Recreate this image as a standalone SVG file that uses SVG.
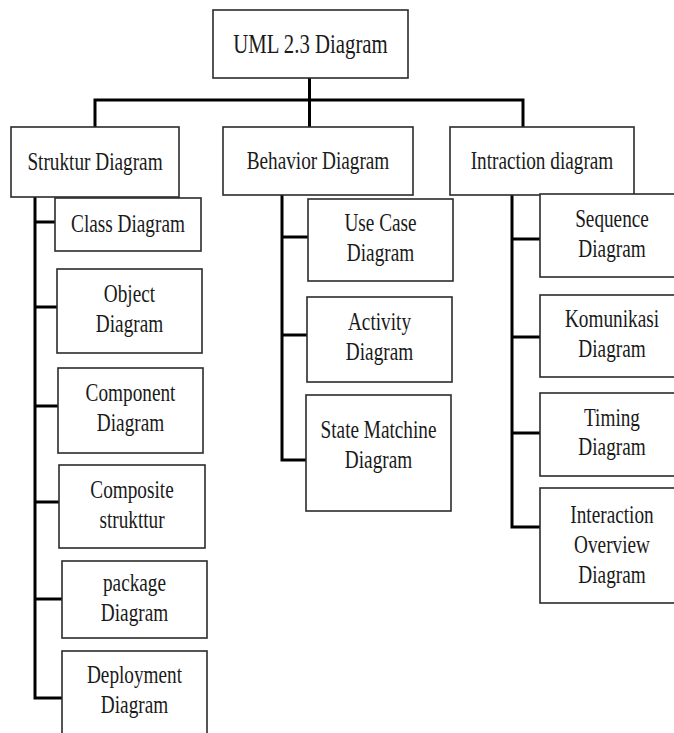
<svg xmlns="http://www.w3.org/2000/svg" width="674" height="733" viewBox="0 0 674 733">
<style>
  .box { fill: #ffffff; stroke: #2b2b2b; stroke-width: 1.6; }
  .lbl { font-family: 'Liberation Serif', 'Times New Roman', serif; font-size: 25px; fill: #1a1a1a; text-anchor: middle; }
  .big { font-size: 27px; }
  .conn { fill: none; stroke: #000000; stroke-width: 3; stroke-linejoin: miter; }
</style>
<rect x="0" y="0" width="674" height="733" fill="#ffffff"/>
<g id="connectors">
  <path class="conn" d="M309.5,78 V127"/>
  <path class="conn" d="M95,127 V100 H523 V127"/>
  <path class="conn" d="M35,197 V698 H62"/>
  <path class="conn" d="M35,222 H55"/>
  <path class="conn" d="M35,307 H57"/>
  <path class="conn" d="M35,406 H58"/>
  <path class="conn" d="M35,502 H59"/>
  <path class="conn" d="M35,599 H62"/>
  <path class="conn" d="M282,195 V460 H306"/>
  <path class="conn" d="M282,237 H308"/>
  <path class="conn" d="M282,335 H307"/>
  <path class="conn" d="M512,195 V527 H540"/>
  <path class="conn" d="M512,239 H540"/>
  <path class="conn" d="M512,337 H540"/>
  <path class="conn" d="M512,433 H540"/>
</g>
<g id="uml">
  <rect class="box" x="213" y="10" width="195" height="68"/>
  <text class="lbl big" transform="translate(310.5,53) scale(0.77,1)" x="0" y="0">UML 2.3 Diagram</text>
</g>
<g id="struktur">
  <rect class="box" x="11" y="127" width="168" height="70"/>
  <text class="lbl" transform="translate(95,170) scale(0.77,1)" x="0" y="0">Struktur Diagram</text>
</g>
<g id="behavior">
  <rect class="box" x="223" y="127" width="190" height="68"/>
  <text class="lbl" transform="translate(318,169) scale(0.77,1)" x="0" y="0">Behavior Diagram</text>
</g>
<g id="intraction">
  <rect class="box" x="450" y="127" width="184" height="68"/>
  <text class="lbl" transform="translate(542,169) scale(0.77,1)" x="0" y="0">Intraction diagram</text>
</g>
<g id="class">
  <rect class="box" x="55" y="198" width="146" height="53"/>
  <text class="lbl" transform="translate(128,232) scale(0.77,1)" x="0" y="0">Class Diagram</text>
</g>
<g id="object">
  <rect class="box" x="57" y="269" width="145" height="84"/>
  <text class="lbl" transform="translate(129.5,302) scale(0.77,1)"><tspan x="0" y="0">Object</tspan><tspan x="0" y="30">Diagram</tspan></text>
</g>
<g id="component">
  <rect class="box" x="58" y="368" width="145" height="85"/>
  <text class="lbl" transform="translate(130.5,401) scale(0.77,1)"><tspan x="0" y="0">Component</tspan><tspan x="0" y="30">Diagram</tspan></text>
</g>
<g id="composite">
  <rect class="box" x="59" y="465" width="146" height="83"/>
  <text class="lbl" transform="translate(132,498) scale(0.77,1)"><tspan x="0" y="0">Composite</tspan><tspan x="0" y="30">strukttur</tspan></text>
</g>
<g id="package">
  <rect class="box" x="62" y="561" width="145" height="77"/>
  <text class="lbl" transform="translate(134.5,591) scale(0.77,1)"><tspan x="0" y="0">package</tspan><tspan x="0" y="30">Diagram</tspan></text>
</g>
<g id="deployment">
  <rect class="box" x="62" y="651" width="145" height="92"/>
  <text class="lbl" transform="translate(134.5,683) scale(0.77,1)"><tspan x="0" y="0">Deployment</tspan><tspan x="0" y="30">Diagram</tspan></text>
</g>
<g id="usecase">
  <rect class="box" x="308" y="199" width="145" height="82"/>
  <text class="lbl" transform="translate(380.5,231) scale(0.77,1)"><tspan x="0" y="0">Use Case</tspan><tspan x="0" y="30">Diagram</tspan></text>
</g>
<g id="activity">
  <rect class="box" x="307" y="297" width="145" height="85"/>
  <text class="lbl" transform="translate(379.5,330) scale(0.77,1)"><tspan x="0" y="0">Activity</tspan><tspan x="0" y="30">Diagram</tspan></text>
</g>
<g id="state">
  <rect class="box" x="306" y="395" width="145" height="116"/>
  <text class="lbl" transform="translate(378.5,438) scale(0.77,1)"><tspan x="0" y="0">State Matchine</tspan><tspan x="0" y="30">Diagram</tspan></text>
</g>
<g id="sequence">
  <rect class="box" x="540" y="194" width="145" height="83"/>
  <text class="lbl" transform="translate(612,227) scale(0.77,1)"><tspan x="0" y="0">Sequence</tspan><tspan x="0" y="30">Diagram</tspan></text>
</g>
<g id="komunikasi">
  <rect class="box" x="540" y="295" width="145" height="82"/>
  <text class="lbl" transform="translate(612,327) scale(0.77,1)"><tspan x="0" y="0">Komunikasi</tspan><tspan x="0" y="30">Diagram</tspan></text>
</g>
<g id="timing">
  <rect class="box" x="540" y="393" width="145" height="83"/>
  <text class="lbl" transform="translate(612,425.5) scale(0.77,1)"><tspan x="0" y="0">Timing</tspan><tspan x="0" y="30">Diagram</tspan></text>
</g>
<g id="interaction">
  <rect class="box" x="540" y="488" width="145" height="115"/>
  <text class="lbl" transform="translate(612,523) scale(0.77,1)"><tspan x="0" y="0">Interaction</tspan><tspan x="0" y="30">Overview</tspan><tspan x="0" y="60">Diagram</tspan></text>
</g>
</svg>
